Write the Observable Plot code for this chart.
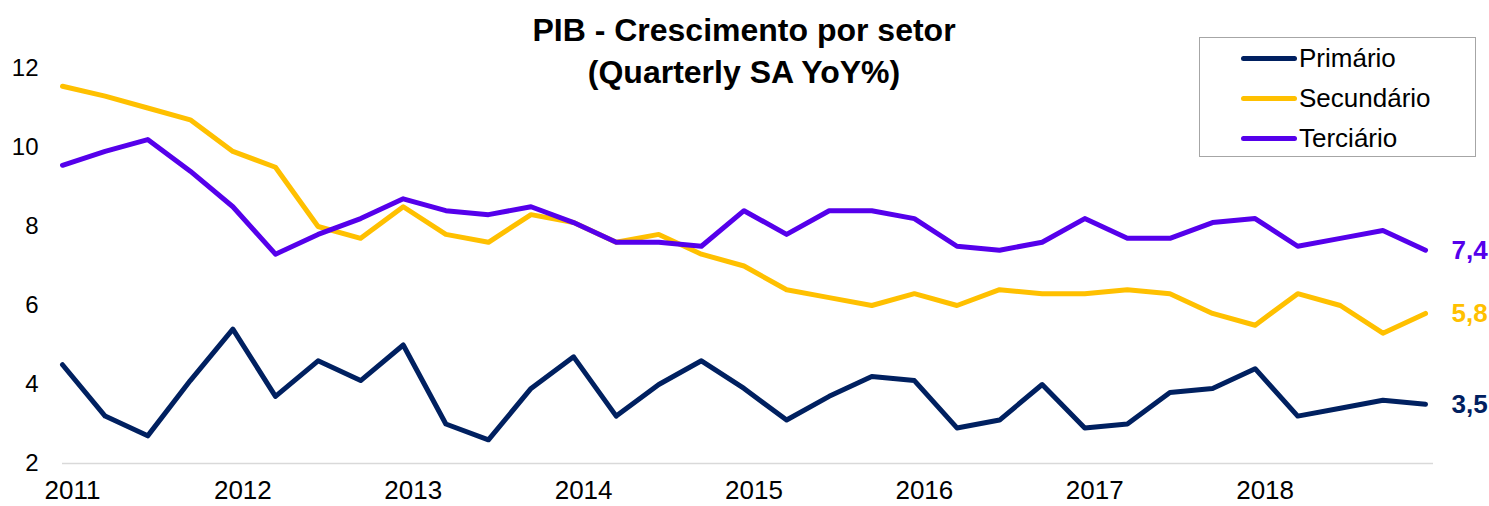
<!DOCTYPE html>
<html>
<head>
<meta charset="utf-8">
<script src="https://cdn.jsdelivr.net/npm/d3@7"></script>
<script src="https://cdn.jsdelivr.net/npm/@observablehq/plot@0.6"></script>
<style>
  html, body { margin: 0; padding: 0; background: #fff; }
  #wrap { position: relative; width: 1489px; height: 506px; font-family: "Liberation Sans", Arial, sans-serif; }
  #legend { position: absolute; left: 1199px; top: 37px; width: 277px; height: 120px; border: 1.5px solid #a6a6a6; box-sizing: border-box; background: #fff; }
  .row { position: absolute; left: 41px; height: 40px; display: flex; align-items: center; font-size: 26px; color: #000; }
  .sw { width: 56px; height: 5px; border-radius: 3px; margin-right: 2px; }
</style>
</head>
<body>
<div id="wrap"></div>
<script>
const title1 = "PIB - Crescimento por setor";
const title2 = "(Quarterly SA YoY%)";
const seriesNames = ["Primário", "Secundário", "Terciário"];
const seriesColors = ["#002060", "#FFC000", "#5500EB"];
const yearLabels = [2011, 2012, 2013, 2014, 2015, 2016, 2017, 2018];
const yTicks = [2, 4, 6, 8, 10, 12];

// Quarterly values, 2011 Q1 .. 2019 Q1
const primario = [4.5, 3.2, 2.7, 4.1, 5.4, 3.7, 4.6, 4.1, 5.0, 3.0, 2.6, 3.9, 4.7, 3.2, 4.0, 4.6, 3.9, 3.1, 3.7, 4.2, 4.1, 2.9, 3.1, 4.0, 2.9, 3.0, 3.8, 3.9, 4.4, 3.2, 3.4, 3.6, 3.5];
const secundario = [11.55, 11.3, 11.0, 10.7, 9.9, 9.5, 8.0, 7.7, 8.5, 7.8, 7.6, 8.3, 8.1, 7.6, 7.8, 7.3, 7.0, 6.4, 6.2, 6.0, 6.3, 6.0, 6.4, 6.3, 6.3, 6.4, 6.3, 5.8, 5.5, 6.3, 6.0, 5.3, 5.8];
const terciario = [9.55, 9.9, 10.2, 9.4, 8.5, 7.3, 7.8, 8.2, 8.7, 8.4, 8.3, 8.5, 8.1, 7.6, 7.6, 7.5, 8.4, 7.8, 8.4, 8.4, 8.2, 7.5, 7.4, 7.6, 8.2, 7.7, 7.7, 8.1, 8.2, 7.5, 7.7, 7.9, 7.4];

const allSeries = [primario, secundario, terciario];
const data = allSeries.flatMap((vals, s) => vals.map((v, i) => ({ i, v, s: seriesNames[s] })));
const lastPts = allSeries.map((vals, s) => ({ i: vals.length - 1, v: vals[vals.length - 1], s: seriesNames[s], color: seriesColors[s] }));

const fmt = v => v.toFixed(1).replace(".", ",");

const chart = Plot.plot({
  width: 1489,
  height: 506,
  marginLeft: 62,
  marginRight: 64,
  marginTop: 68,
  marginBottom: 43,
  style: { fontFamily: "'Liberation Sans', Arial, sans-serif", fontSize: "24px", color: "#000", background: "#fff" },
  x: { domain: [0, 32], axis: null, label: null },
  y: { domain: [2, 12], axis: null, label: null },
  color: { domain: seriesNames, range: seriesColors },
  marks: [
    Plot.ruleY([2], { stroke: "#d9d9d9", strokeWidth: 1.5, insetRight: -8 }),
    Plot.axisY(yTicks, { tickSize: 0, tickPadding: 24, fontSize: 24, fill: "#000", label: null }),
    Plot.axisX(yearLabels.map((y, k) => k * 4), { tickSize: 0, tickPadding: 17, dx: 10, fontSize: 26, fill: "#000", label: null, tickFormat: i => String(2011 + i / 4) }),
    Plot.line(data, { x: "i", y: "v", z: "s", stroke: "s", strokeWidth: 5, strokeLinejoin: "round", strokeLinecap: "round" }),
    Plot.text(lastPts, { x: "i", y: "v", text: d => fmt(d.v), fill: "color", dx: 26, textAnchor: "start", fontWeight: "bold", fontSize: 26 }),
    Plot.text([title1], { frameAnchor: "top", dy: -50, text: d => d, fontWeight: "bold", fontSize: 32, fill: "#000" }),
    Plot.text([title2], { frameAnchor: "top", dy: -8, text: d => d, fontWeight: "bold", fontSize: 32, fill: "#000" })
  ]
});

const wrap = document.getElementById("wrap");
wrap.appendChild(chart);

const legend = document.createElement("div");
legend.id = "legend";
seriesNames.forEach((name, k) => {
  const row = document.createElement("div");
  row.className = "row";
  row.style.top = (0 + k * 40) + "px";
  const sw = document.createElement("span");
  sw.className = "sw";
  sw.style.background = seriesColors[k];
  const t = document.createElement("span");
  t.textContent = name;
  row.appendChild(sw);
  row.appendChild(t);
  legend.appendChild(row);
});
wrap.appendChild(legend);
</script>
</body>
</html>
